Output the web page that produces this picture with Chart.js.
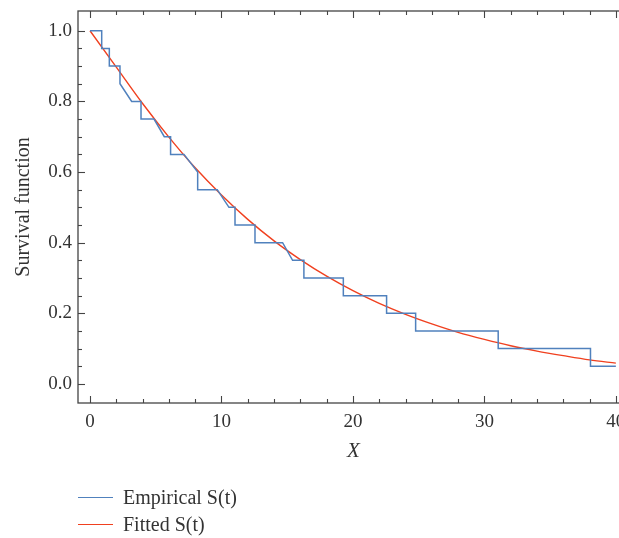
<!DOCTYPE html>
<html>
<head>
<meta charset="utf-8">
<script src="https://cdn.jsdelivr.net/npm/chart.js@4.4.1/dist/chart.umd.min.js"></script>
<style>
  html, body { margin: 0; padding: 0; background: #fff; overflow: hidden; }
  #wrap { position: relative; width: 619px; height: 538px; overflow: hidden; }
  #chart { position: absolute; left: 0; top: 0; }
  .leg { position: absolute; left: 78px; height: 26px; display: flex; align-items: center;
         font-family: 'Liberation Serif', serif; font-size: 20px; color: #333; }
  .leg span.sw { display: inline-block; width: 35px; height: 0; margin-right: 10px; }
</style>
</head>
<body>
<div id="wrap">
  <canvas id="chart" width="680" height="538"></canvas>
  <div id="legend"></div>
</div>
<script>
// empirical survival curve, as drawn (steps joined by straight segments)
const empX = [0, 0.89, 0.89, 1.47, 1.47, 2.28, 2.28, 3.17, 3.88, 3.88, 4.87, 5.65, 6.13, 6.13,
  7.15, 8.19, 8.19, 9.68, 10.57, 11.03, 11.03, 12.55, 12.55, 14.65, 15.41, 16.27, 16.27,
  19.27, 19.27, 22.56, 22.56, 24.77, 24.77, 31.05, 31.05, 38.07, 38.07, 40];
const empY = [1.0, 1.0, 0.95, 0.95, 0.9, 0.9, 0.85, 0.8, 0.8, 0.75, 0.75, 0.7, 0.7, 0.65,
  0.65, 0.6, 0.55, 0.55, 0.5, 0.5, 0.45, 0.45, 0.4, 0.4, 0.35, 0.35, 0.3,
  0.3, 0.25, 0.25, 0.2, 0.2, 0.15, 0.15, 0.1, 0.1, 0.05, 0.05];

// fitted curve
const fitX = [0, 2, 4, 6, 8, 10, 12, 14, 16, 18, 20, 22, 24, 26, 28, 30, 32, 34, 36, 38, 40];
const fitY = [1.0, 0.897, 0.794, 0.699, 0.612, 0.535, 0.466, 0.405, 0.352, 0.305, 0.264,
  0.228, 0.197, 0.170, 0.146, 0.126, 0.108, 0.093, 0.080, 0.068, 0.059];

const seriesLabels = ['Empirical S(t)', 'Fitted S(t)'];

const xMajorTicks = [0, 10, 20, 30, 40];
const xMinorTicks = [2, 4, 6, 8, 12, 14, 16, 18, 22, 24, 26, 28, 32, 34, 36, 38];
const yMajorTicks = [0, 0.2, 0.4, 0.6, 0.8, 1.0];
const yMinorTicks = [0.05, 0.1, 0.15, 0.25, 0.3, 0.35, 0.45, 0.5, 0.55, 0.65, 0.7, 0.75, 0.85, 0.9, 0.95];

const BLUE = '#5081bd';
const RED = '#f0401f';
const INK = '#444';
const FONT = 'Liberation Serif';

// frame + inward tick marks, like the original plot
const frameTicks = {
  id: 'frameTicks',
  afterDatasetsDraw(chart) {
    const { ctx, chartArea: a, scales: { x, y } } = chart;
    ctx.save();
    ctx.strokeStyle = INK;
    ctx.lineWidth = 1.3;
    ctx.strokeRect(a.left, a.top, a.right - a.left, a.bottom - a.top);
    ctx.lineWidth = 1.1;
    const mark = (x1, y1, x2, y2) => { ctx.beginPath(); ctx.moveTo(x1, y1); ctx.lineTo(x2, y2); ctx.stroke(); };
    const xt = (vals, len) => vals.forEach(v => {
      const p = Math.round(x.getPixelForValue(v)) + 0.5;
      mark(p, a.bottom, p, a.bottom - len);
      mark(p, a.top, p, a.top + len);
    });
    const yt = (vals, len) => vals.forEach(v => {
      const p = Math.round(y.getPixelForValue(v)) + 0.5;
      mark(a.left, p, a.left + len, p);
      mark(a.right, p, a.right - len, p);
    });
    xt(xMajorTicks, 7); xt(xMinorTicks, 4);
    yt(yMajorTicks, 7); yt(yMinorTicks, 4);
    ctx.restore();
  }
};

const chart = new Chart(document.getElementById('chart'), {
  type: 'line',
  data: {
    datasets: [
      {
        label: seriesLabels[0],
        data: empX.map((v, i) => ({ x: v, y: empY[i] })),
        borderColor: BLUE,
        borderWidth: 1.5,
        pointRadius: 0,
        tension: 0,
      },
      {
        label: seriesLabels[1],
        data: fitX.map((v, i) => ({ x: v, y: fitY[i] })),
        borderColor: RED,
        borderWidth: 1.4,
        pointRadius: 0,
        cubicInterpolationMode: 'monotone',
      },
    ],
  },
  options: {
    responsive: false,
    animation: false,
    layout: { padding: { top: 11, right: 51, left: 0, bottom: 0 } },
    plugins: { legend: { display: false }, tooltip: { enabled: false } },
    scales: {
      x: {
        type: 'linear',
        min: -0.913,
        max: 41,
        grid: { display: false, drawTicks: false },
        border: { display: false },
        afterBuildTicks: s => { s.ticks = xMajorTicks.map(v => ({ value: v })); },
        afterFit: s => { s.height = 135; s.paddingLeft = 0; s.paddingRight = 0; },
        ticks: { padding: 8, color: '#333', font: { family: FONT, size: 19 }, maxRotation: 0 },
        title: {
          display: true, text: 'X', color: '#333',
          font: { family: FONT, size: 21, style: 'italic' },
          padding: { top: 0, bottom: 74 },
        },
      },
      y: {
        type: 'linear',
        min: -0.054,
        max: 1.056,
        grid: { display: false, drawTicks: false },
        border: { display: false },
        afterBuildTicks: s => { s.ticks = yMajorTicks.map(v => ({ value: v })); },
        afterFit: s => { s.width = 78; s.paddingTop = 0; s.paddingBottom = 0; },
        ticks: { padding: 6, color: '#333', font: { family: FONT, size: 19 },
                 callback: v => v.toFixed(1) },
        title: {
          display: true, text: 'Survival function', color: '#333',
          font: { family: FONT, size: 20 },
          padding: { top: 12, bottom: 0 },
        },
      },
    },
  },
  plugins: [frameTicks],
});

// legend stacked under the plot
const legendTops = [484, 511];
chart.data.datasets.forEach((ds, i) => {
  const row = document.createElement('div');
  row.className = 'leg';
  row.style.top = legendTops[i] + 'px';
  row.innerHTML = '<span class="sw" style="border-top:1.5px solid ' + ds.borderColor + '"></span>' + ds.label;
  document.getElementById('legend').appendChild(row);
});
</script>
</body>
</html>
